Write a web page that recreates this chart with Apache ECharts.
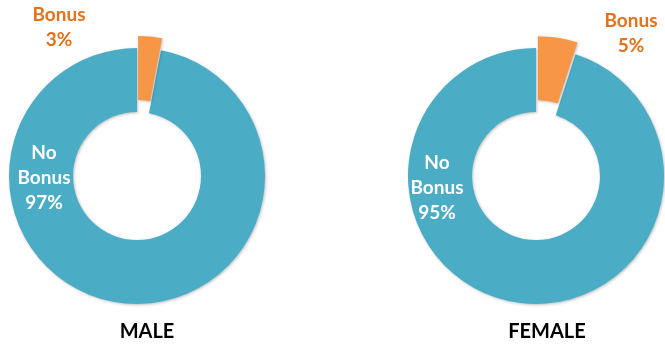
<!DOCTYPE html>
<html>
<head>
<meta charset="utf-8">
<script src="https://cdn.jsdelivr.net/npm/echarts@6/dist/echarts.min.js"></script>
<style>
html,body{margin:0;padding:0;background:#fff;}
#c{width:665px;height:345px;}
</style>
</head>
<body>
<div id="c"></div>
<script>
// ---- data ----
var groups = ['MALE', 'FEMALE'];
var categories = ['Bonus', 'No Bonus'];
var maleValues = [3, 97];
var femaleValues = [5, 95];

// ---- layout / style ----
var centers = [[137, 176], [536, 176]];
var labelPos = [
  [[59, 27], [44, 178]],
  [[631, 33], [437, 188]]
];
var titlePos = [[147, 332], [547, 332]];
var colors = ['#F79646', '#4BACC6'];
var labelColors = ['#E5711A', '#ffffff'];
var FONT = 'Lato, "Open Sans", sans-serif';

function makeSeries(values, idx) {
  return {
    type: 'pie',
    center: centers[idx],
    radius: [64, 128],
    startAngle: 90,
    clockwise: true,
    selectedMode: 'single',
    selectedOffset: 12,
    animation: false,
    silent: true,
    itemStyle: {
      borderWidth: 0,
      shadowBlur: 3,
      shadowColor: 'rgba(0,0,0,0.25)',
      shadowOffsetX: 1,
      shadowOffsetY: 1
    },
    label: { show: false },
    labelLine: { show: false },
    data: categories.map(function (name, i) {
      return {
        name: name,
        value: values[i],
        selected: i === 0,
        itemStyle: { color: colors[i] }
      };
    })
  };
}

var allValues = [maleValues, femaleValues];
var graphics = [];
groups.forEach(function (g, gi) {
  graphics.push({
    type: 'text',
    x: titlePos[gi][0],
    y: titlePos[gi][1],
    z: 100,
    style: {
      text: g,
      textAlign: 'center',
      textVerticalAlign: 'middle',
      fontFamily: FONT,
      fontWeight: 'bold',
      fontSize: 20,
      fill: '#000000'
    }
  });
  categories.forEach(function (name, ci) {
    graphics.push({
      type: 'text',
      x: labelPos[gi][ci][0],
      y: labelPos[gi][ci][1],
      z: 100,
      style: {
        text: name.replace(' ', '\n') + '\n' + allValues[gi][ci] + '%',
        textAlign: 'center',
        textVerticalAlign: 'middle',
        fontFamily: FONT,
        fontWeight: 'bold',
        fontSize: 19,
        lineHeight: 25,
        fill: labelColors[ci]
      }
    });
  });
});

var chart = echarts.init(document.getElementById('c'), null, { renderer: 'canvas' });
chart.setOption({
  backgroundColor: '#ffffff',
  animation: false,
  series: [makeSeries(maleValues, 0), makeSeries(femaleValues, 1)],
  graphic: graphics
});
</script>
</body>
</html>
